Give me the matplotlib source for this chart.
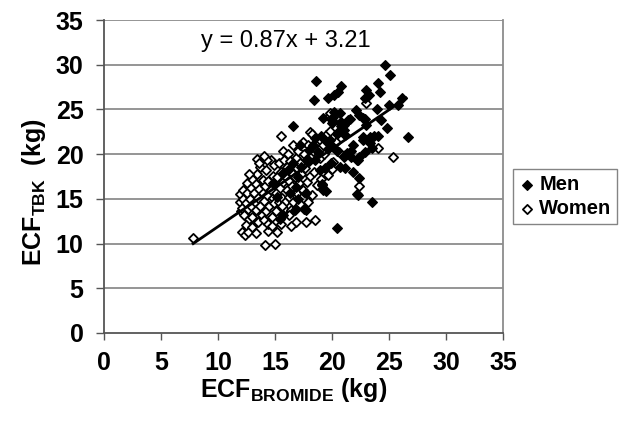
import numpy as np
import matplotlib
matplotlib.use("Agg")
import matplotlib.pyplot as plt

plt.rcParams['font.family'] = ['Liberation Sans', 'DejaVu Sans']
plt.rcParams['mathtext.fontset'] = 'custom'
plt.rcParams['mathtext.rm'] = 'Liberation Sans'
plt.rcParams['mathtext.bf'] = 'Liberation Sans:bold'

# Men (filled diamonds): ECF bromide (kg), ECF TBK (kg)
men_x = [24.6, 25.1, 18.6, 20.8, 20.5, 20.2, 19.6, 18.4, 24.0, 23.0, 23.2, 22.9,
         24.2, 25.8, 26.1, 25.0, 23.95, 22.1, 22.4, 20.2, 20.1, 19.2, 21.55, 20.8,
         22.9, 16.6, 24.8, 21.4, 21.0, 20.7, 22.7, 23.0, 19.95, 20.8,
         24.0, 23.3, 22.7, 23.3, 23.5, 21.1, 20.4, 21.0, 20.5, 22.7, 23.7, 17.2,
         21.7, 21.1, 22.4, 22.3, 21.3, 21.0, 22.2, 21.7,
         21.1, 21.8, 22.4, 22.3, 23.5, 22.2,
         19.8, 20.1, 20.4, 20.7, 19.95, 26.7, 20.4,
         19.45, 17.75, 17.5, 16.7, 15.7, 15.4, 17.75,
         20.7, 19.4, 18.9, 19.1, 19.2, 16.6, 16.1, 15.7,
         18.5, 19.0, 19.5, 18.0, 18.8, 19.6, 18.3, 17.8, 17.3, 17.0, 16.8, 18.5,
         19.9, 16.3, 17.0, 14.8, 15.2, 21.8, 22.9, 24.3]
men_y = [30.0, 28.8, 28.2, 27.6, 27.0, 26.6, 26.3, 26.1, 27.9, 27.2, 26.6, 26.3,
         26.9, 25.5, 26.3, 25.5, 25.0, 24.9, 24.4, 24.75, 24.2, 24.0, 23.9, 23.6,
         23.9, 23.2, 22.9, 23.8, 23.3, 23.5, 24.0, 23.3, 23.5, 23.1,
         22.0, 21.9, 21.6, 21.2, 20.7, 22.1, 22.3, 22.7, 22.5, 21.9, 22.0, 21.0,
         20.3, 19.9, 19.7, 19.35, 20.1, 19.7, 19.4, 19.7,
         18.5, 18.0, 17.3, 15.4, 14.6, 15.5,
         21.6, 20.8, 20.3, 24.6, 23.8, 21.9, 11.7,
         15.9, 13.8, 13.9, 13.8, 13.2, 12.8, 15.6,
         18.6, 18.4, 18.2, 16.7, 16.0, 19.0, 18.2, 17.9,
         21.8, 22.0, 21.5, 20.5, 20.2, 20.6, 21.0, 19.5, 18.6, 17.5, 16.3, 19.3,
         19.0, 15.7, 15.0, 16.8, 15.2, 21.0, 20.2, 23.8]

# Women (open diamonds)
women_x = [7.8,
           12.05, 12.35, 12.6, 13.3, 14.4, 14.1, 15.0,
           15.5, 18.1, 19.7, 23.0, 24.0, 25.3, 22.4, 20.1, 19.9, 13.4,
           11.9, 11.9, 12.0, 12.1, 12.2, 12.2, 12.3, 12.4, 12.5, 12.5, 12.6, 12.7,
           12.8, 12.9, 12.9, 13.0, 13.0,
           13.1, 13.2, 13.3, 13.3, 13.4, 13.5, 13.5, 13.6, 13.7, 13.7, 13.8, 13.9,
           13.9, 14.0, 13.6,
           14.0, 14.1, 14.2, 14.2, 14.3, 14.4, 14.4, 14.5, 14.6, 14.6, 14.7, 14.8,
           14.8, 14.9, 14.9, 14.3,
           15.0, 15.1, 15.1, 15.2, 15.3, 15.3, 15.4, 15.5, 15.5, 15.6, 15.7, 15.7,
           15.8, 15.8, 15.9, 15.9, 16.0, 15.2,
           16.0, 16.1, 16.2, 16.2, 16.3, 16.4, 16.4, 16.5, 16.6, 16.6, 16.7, 16.8,
           16.8, 16.9, 16.9, 16.4,
           17.0, 17.1, 17.2, 17.2, 17.3, 17.4, 17.5, 17.5, 17.6, 17.7, 17.8, 17.9,
           17.9,
           18.0, 18.1, 18.2, 18.2, 18.3, 18.4, 18.5, 18.6, 18.7, 18.9, 18.9, 19.0,
           19.2, 19.15, 19.3, 19.5, 19.65, 19.95, 19.8, 19.8,
           20.3, 20.6, 12.4, 13.0, 14.7, 15.6, 16.2, 17.4, 14.0, 12.7]
women_y = [10.6,
           11.3, 11.0, 11.3, 11.15, 11.4, 9.85, 10.0,
           22.0, 22.5, 24.3, 25.7, 20.7, 19.7, 16.4, 19.1, 18.3, 19.5,
           15.5, 14.6, 13.6, 14.0, 15.0, 16.0, 13.2, 14.5, 15.6, 16.8, 13.9, 12.8,
           15.0, 16.2, 14.2, 17.2, 13.0,
           15.6, 14.6, 16.7, 13.7, 17.8, 15.1, 12.4, 16.1, 14.2, 18.6, 13.2, 15.7,
           17.1, 12.6, 19.0,
           14.8, 16.4, 13.6, 18.2, 15.4, 17.0, 12.2, 14.2, 16.0, 19.4, 13.0, 15.1,
           17.6, 18.8, 14.5, 19.3,
           16.5, 13.6, 15.6, 17.4, 19.0, 14.6, 16.2, 18.0, 12.2, 15.1, 20.3, 16.9,
           13.9, 19.4, 17.6, 14.7, 18.6, 11.3,
           16.0, 20.0, 15.2, 17.0, 19.2, 13.8, 18.0, 16.4, 21.0, 14.6, 17.4, 19.6,
           12.4, 15.6, 18.4, 12.0,
           20.4, 16.8, 14.4, 19.0, 17.8, 21.4, 15.8, 20.0, 18.4, 12.4, 16.9, 21.0,
           14.6,
           19.2, 17.6, 22.3, 15.4, 20.4, 18.0, 12.6, 21.2, 16.6, 21.6, 19.6, 17.2,
           21.0, 16.6, 20.0, 22.1, 17.7, 18.3, 22.6, 24.6,
           21.4, 20.2, 12.1, 11.8, 12.0, 14.2, 13.2, 16.0, 19.8, 17.8]

# regression line
slope, intercept = 0.87, 3.21
fit_x = [7.8, 26.5]

fig = plt.figure(figsize=(6.22, 4.29), dpi=100)
ax = fig.add_axes([104.3 / 622, 96 / 429, 398.7 / 622, 313 / 429])

grid_c = '#8c8c8c'
for yv in range(5, 40, 5):
    ax.axhline(yv, color=grid_c, lw=1.3, zorder=0)

ax.scatter(women_x, women_y, marker='D', s=22, facecolors='white',
           edgecolors='black', linewidths=1.3, zorder=2, label='Women')
ax.scatter(men_x, men_y, marker='D', s=24, color='black', zorder=3, label='Men')

fit_y = [slope * v + intercept for v in fit_x]
ax.plot(fit_x, fit_y, color='black', lw=2, zorder=4)

ax.text(15.9, 32.6, f'y = {slope}x + {intercept}', fontsize=17,
        ha='center', va='center')

ax.set_xlim(0, 35)
ax.set_ylim(0, 35)
ax.set_xticks(range(0, 40, 5))
ax.set_yticks(range(0, 40, 5))
for lab in ax.get_xticklabels() + ax.get_yticklabels():
    lab.set_fontweight('bold')
    lab.set_fontsize(18)
ax.tick_params(axis='y', direction='out', length=6, width=1, pad=9, color='#555555')
ax.tick_params(axis='x', direction='out', length=5, width=1, pad=8, color='#555555')

ax.spines['top'].set_visible(False)
ax.spines['right'].set_color(grid_c)
ax.spines['left'].set_color('#555555')
ax.spines['bottom'].set_color('#555555')
for s in ax.spines.values():
    s.set_linewidth(1.3)

fig.text(294 / 622, 1 - 390 / 429, r'ECF$_{\mathbf{BROMIDE}}$ (kg)', fontsize=18,
         fontweight='bold', ha='center', va='center')
fig.text(34 / 622, 1 - 192 / 429, r'ECF$_{\mathbf{TBK}}$  (kg)', fontsize=18,
         fontweight='bold', ha='center', va='center', rotation=90)

handles, labels = ax.get_legend_handles_labels()
leg = fig.legend(handles[::-1], labels[::-1], loc='upper left',
                 bbox_to_anchor=(513 / 622, 1 - 169 / 429),
                 prop={'weight': 'bold', 'size': 14.5}, frameon=True,
                 fancybox=False, borderaxespad=0, handletextpad=0.2,
                 handlelength=0.8, borderpad=0.3, labelspacing=0.25)
leg.get_frame().set_edgecolor('#666666')
leg.get_frame().set_linewidth(1.0)

fig.savefig('out.png', dpi=100)
